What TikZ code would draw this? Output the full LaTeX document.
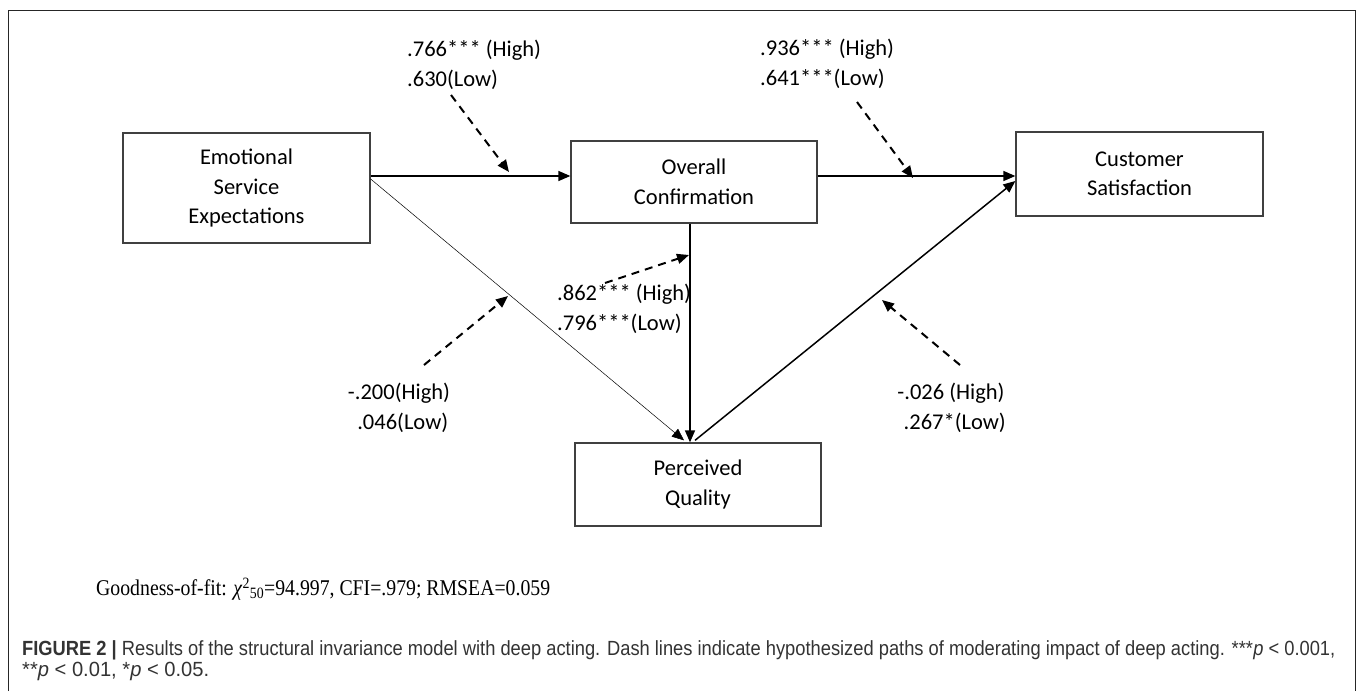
\documentclass[tikz,border=0pt]{standalone}
\usepackage{fontspec}
\usepackage{graphicx}
\usetikzlibrary{arrows.meta,calc}
\setmainfont{Carlito}
\newfontfamily\timesfont{Liberation Serif}
\newfontfamily\capfont{Liberation Sans}
\tikzset{
  x=1pt,y=-1pt,
  varbox/.style={draw=black!75,line width=1.3pt,minimum width=#1,align=center,inner sep=0pt,
    font=\fontsize{22.5}{29.5}\selectfont},
  path/.style={line width=1.5pt,-{Triangle[length=12pt,width=10pt]}},
  thinpath/.style={line width=0.5pt,-{Triangle[length=12pt,width=10pt]}},
  modpath/.style={line width=2pt,dash pattern=on 8pt off 6pt,-{Triangle[length=12pt,width=10pt]}},
  lab/.style={font=\fontsize{22.5}{30}\selectfont,inner sep=0pt},
}
\begin{document}
\begin{tikzpicture}
\useasboundingbox (0,0) rectangle (1357,691);
\fill[white] (0,0) rectangle (1357,691);
% frame
\draw[line width=0.9pt,black!85] (8,691) -- (8,10) -- (1355,10) -- (1355,691);

% boxes
\node[varbox=247pt,minimum height=110pt] (emo) at (246.5,188) {Emotional\\Service\\Expectations};
\node[varbox=246pt,minimum height=82pt] (ovc) at (694,182) {Overall\\Confirmation};
\node[varbox=247pt,minimum height=84pt] (cs) at (1139.5,174) {Customer\\Satisfaction};
\node[varbox=246pt,minimum height=83pt] (pq) at (698,484.5) {Perceived\\Quality};

% helper coordinates
\coordinate (hy) at (0,176);
\coordinate (vx) at (690,0);
\coordinate (ty) at (0,179);
\coordinate (px1) at (684,0);
\coordinate (px2) at (695,0);
\coordinate (cy) at (0,181);

% structural paths
\draw[path] (emo.east |- hy) -- (ovc.west |- hy);
\draw[path] (ovc.east |- hy) -- (cs.west |- hy);
\draw[path] (ovc.south -| vx) -- (pq.north -| vx);
\draw[thinpath] (emo.east |- ty) -- ($(pq.north -| px1)+(0,-2)$);
\draw[path] ($(pq.north -| px2)+(0,-2)$) -- (cs.west |- cy);

% labels
\node[lab,anchor=west,align=left] (l1) at (407,65) {.766*** (High)\\.630(Low)};
\node[lab,anchor=west,align=left] (l2) at (760,63.5) {.936*** (High)\\.641***(Low)};
\node[lab,anchor=west,align=left] (l3) at (557,308.5) {.862*** (High)\\.796***(Low)};
\node[lab,align=center] (l4) at (399,408) {-.200(High)\\\,\,.046(Low)};
\node[lab,align=center] (l5) at (951,408) {-.026 (High)\\\,\,.267*(Low)};

% moderating paths
\coordinate (d1s) at (451,95);  \coordinate (d1e) at (509,172);
\coordinate (d2s) at (857,102); \coordinate (d2e) at (913,178);
\coordinate (d3s) at (605,283); \coordinate (d3e) at (689,255);
\coordinate (d4s) at (424,365); \coordinate (d4e) at (508,296);
\coordinate (d5s) at (960,365); \coordinate (d5e) at (882,300);
\draw[modpath] (d1s) -- (d1e);
\draw[modpath] (d2s) -- (d2e);
\draw[modpath] (d3s) -- (d3e);
\draw[modpath] (d4s) -- (d4e);
\draw[modpath] (d5s) -- (d5e);

% goodness of fit
\node[anchor=west,inner sep=0pt] (gof) at (96,589) {\resizebox{454pt}{\height}{\timesfont\fontsize{22.5}{25}\selectfont Goodness-of-fit: \textit{χ}\textsuperscript{2}\textsubscript{50}=94.997, CFI=.979; RMSEA=0.059}};

% caption
\node[anchor=west,inner sep=0pt,text=black!80] (cap1) at (22,650) {\resizebox{1313pt}{\height}{\capfont\fontsize{20.5}{23}\selectfont\textbf{FIGURE 2 |} Results of the structural invariance model with deep acting. Dash lines indicate hypothesized paths of moderating impact of deep acting. ***\textit{p} < 0.001,}};
\node[anchor=west,inner sep=0pt,text=black!80] (cap2) at (22,671) {\resizebox{187pt}{\height}{\capfont\fontsize{20.5}{23}\selectfont **\textit{p} < 0.01, *\textit{p} < 0.05.}};
\end{tikzpicture}
\end{document}
